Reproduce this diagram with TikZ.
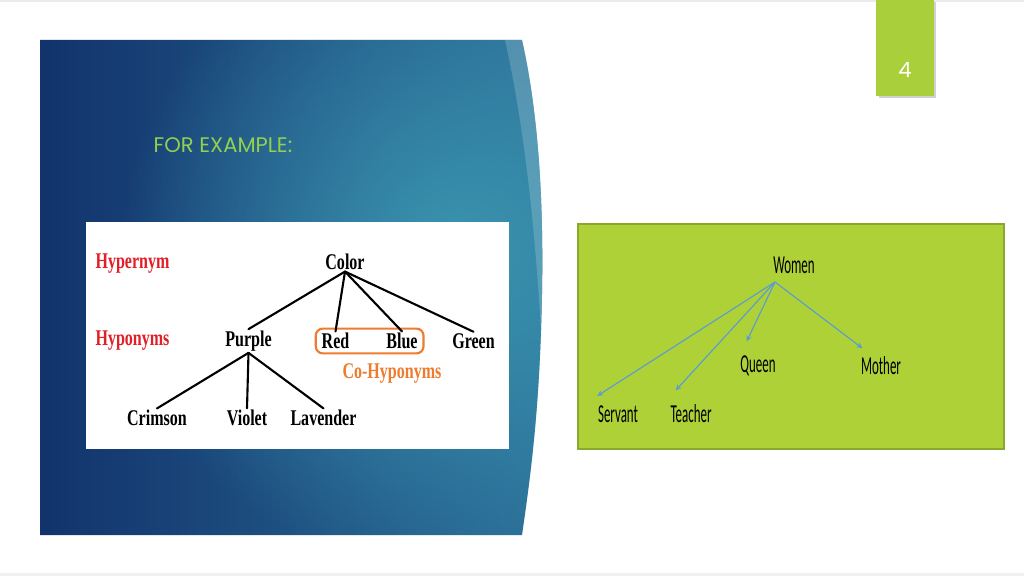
\documentclass[tikz,border=0pt]{standalone}
\usepackage{fontspec}
\setmainfont{Liberation Serif}
\newfontfamily\calibri{Carlito}
\newfontfamily\gothic{Poppins}
\usetikzlibrary{shapes,arrows,positioning,calc,fit,fadings}

\definecolor{slidenavy}{HTML}{12336C}
\definecolor{slideblue}{HTML}{2B6F98}
\definecolor{slideteal}{HTML}{3E9DB5}
\definecolor{titlegreen}{HTML}{92D050}
\definecolor{pagegreen}{HTML}{A9CF3A}
\definecolor{boxgreen}{HTML}{ADD136}
\definecolor{boxolive}{HTML}{8BA82E}
\definecolor{termred}{HTML}{E21F26}
\definecolor{coorange}{HTML}{EE7B2E}
\definecolor{arrowblue}{HTML}{5B9BD5}

\newcommand{\tallText}[2]{\scalebox{1}[#1]{#2}}
\tikzfading[name=softglow, inner color=transparent!15, outer color=transparent!100]

\begin{document}
\begin{tikzpicture}[x=0.025cm, y=-0.025cm]
\useasboundingbox (0,0) rectangle (1024,576);
\tikzset{
  term/.style={font=\bfseries\fontsize{11.4}{13}\selectfont, inner sep=1pt},
  word/.style={font=\calibri\fontsize{9.2}{11}\selectfont, inner sep=1pt},
  branch/.style={line width=1.5pt, line cap=round},
  link/.style={->, >=stealth, draw=arrowblue, line width=0.8pt}
}

% slide frame
\fill[black!8] (0,0) rectangle (1024,2);
\fill[black!6] (0,573) rectangle (1024,576);

% blue panel
\begin{scope}
\clip (40,40) -- (522,40) .. controls (540,120) and (545,220) .. (541,330)
  .. controls (538,420) and (530,480) .. (522,535) -- (40,535) -- cycle;
\shade[left color=slidenavy, right color=slideblue] (40,40) rectangle (545,535);
\fill[slideteal, path fading=softglow] (450,250) circle (330);
\end{scope}
\fill[white, opacity=0.18] (505,40) -- (522,40) .. controls (540,120) and (545,220) .. (541,330)
  .. controls (535,230) and (525,130) .. (505,40) -- cycle;

\node[font=\gothic\fontsize{15}{17}\selectfont, text=titlegreen] (title) at (223,145) {FOR EXAMPLE:};

% page number
\fill[black!18] (879,2) rectangle (936,98);
\fill[pagegreen] (876,0) rectangle (934,96);
\node[font=\gothic\fontsize{15}{16}\selectfont, text=white] (pagenum) at (905,70) {4};

% left picture: colour tree
\fill[white] (86,222) rectangle (509,449);
\node[term, text=termred] (hypernym) at (132.5,264) {\tallText{1.4}{Hypernym}};
\node[term, text=termred] (hyponyms) at (132.5,341) {\tallText{1.4}{Hyponyms}};
\node[term] (color) at (345,262) {\tallText{1.4}{Color}};
\node[term] (purple) at (248.5,341) {\tallText{1.4}{Purple}};
\node[term] (red) at (335.5,341) {\tallText{1.4}{Red}};
\node[term] (blue) at (402,341) {\tallText{1.4}{Blue}};
\node[term] (green) at (473.5,341) {\tallText{1.4}{Green}};
\node[term, text=coorange] (cohypo) at (392,373) {\tallText{1.4}{Co-Hyponyms}};
\node[term] (crimson) at (157,418) {\tallText{1.4}{Crimson}};
\node[term] (violet) at (247,418) {\tallText{1.4}{Violet}};
\node[term] (lavender) at (323.5,418) {\tallText{1.4}{Lavender}};
\node[draw=coorange, line width=1.5pt, rounded corners=5pt, inner xsep=3pt, inner ysep=2pt, fit=(red)(blue)] (cogroup) {};

\draw[branch] (color.south) -- (purple.north);
\draw[branch] (color.south) -- (red.north);
\draw[branch] (color.south) -- (blue.north);
\draw[branch] (color.south) -- (green.north);
\draw[branch] (purple.south) -- (crimson.north);
\draw[branch] (purple.south) -- (violet.north);
\draw[branch] (purple.south) -- (lavender.north);

% right picture: women tree
\draw[draw=boxolive, fill=boxgreen, line width=1.2pt] (578,224) rectangle (1004,449);
\node[word] (women) at (794,265) {\tallText{2}{Women}};
\coordinate (hub) at (775,282);
\node[word] (servant) at (618,414) {\tallText{2}{Servant}};
\node[word] (teacher) at (691,414) {\tallText{2}{Teacher}};
\node[word] (queen) at (758,366) {\tallText{2}{Queen}};
\node[word] (mother) at (881,366) {\tallText{2}{Mother}};

\draw[link] (hub) -- ($(servant.north west)+(1,-8)$);
\draw[link] (hub) -- ($(teacher.north west)+(7,-13)$);
\draw[link] (hub) -- ($(queen.north west)+(8,-13)$);
\draw[link] (hub) -- ($(mother.north west)+(3,-7)$);

\end{tikzpicture}
\end{document}
